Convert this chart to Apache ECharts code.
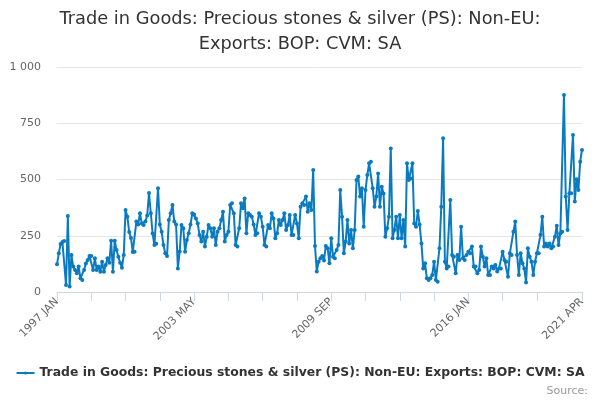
<!DOCTYPE html>
<html>
<head>
<meta charset="utf-8">
<script src="https://cdn.jsdelivr.net/npm/echarts@6/dist/echarts.min.js"></script>
<style>
html,body{margin:0;padding:0;background:#fff;}
#chart{width:600px;height:400px;}
</style>
</head>
<body>
<div id="chart"></div>
<script>
var seriesName = "Trade in Goods: Precious stones & silver (PS): Non-EU: Exports: BOP: CVM: SA";
var titleLines = ["Trade in Goods: Precious stones & silver (PS): Non-EU:", "Exports: BOP: CVM: SA"];
var startYear = 1997;
var monthNames = ["JAN","FEB","MAR","APR","MAY","JUN","JUL","AUG","SEP","OCT","NOV","DEC"];
var yTicks = [0, 250, 500, 750, 1000];

var values1997_2000 = [123,172,213,222,227,31,338,24,164,113,98,83,113,61,53,98,127,142,160,160,98,150,98,113,90,135,90,120,150,130,228,90,228,187,157,130,108,164,364,335,267,240,178,179];
var values2000_2004 = [313,300,350,305,298,313,340,440,350,260,209,215,461,300,268,209,172,160,320,350,387,313,300,105,180,298,283,179,231,261,300,350,345,327,305,253,224,268,202,246,298,283,246,283,209,268,283,320,357,224];
var values2004_2009 = [253,268,387,394,350,209,202,283,394,372,416,261,350,342,335,300,253,261,350,335,290,209,202,298,283,350,327,239,261,320,298,320,350,276,298,342,253,253,342,305,239,379,394,387,424,357,394,364,542];
var values2009_2013 = [205,91,135,150,160,140,205,194,128,239,157,150,187,209,453,335,172,224,320,216,276,194,276,498,513,424,461,290,453,520,572,579,461,379,424,527,379,468,438,246,283,335,638];
var values2013_2017 = [239,276,335,239,342,239,320,202,572,498,505,572,305,290,360,300,216,105,128,61,53,61,76,135,53,46,194,379,683,135,105,113,409,165,157,83,165,142,290,150,142,165,179,172,202,113,113,83,98,202,157,113,150,76,76,113,105,120];
var values2017_2021 = [91,105,105,179,142,135,68,172,165,268,313,165,76,172,128,105,42,194,157,135,76,135,172,172,254,335,202,216,202,216,194,202,246,295,209,261,268,876,424,276,439,439,698,402,501,453,579,631];

var values = [].concat(values1997_2000, values2000_2004, values2004_2009, values2009_2013, values2013_2017, values2017_2021);

var categories = [];
for (var k = 0; k < values.length; k++) {
  var yr = startYear + Math.floor(k / 12);
  categories.push(yr + " " + monthNames[k % 12]);
}
var lastIndex = categories.length - 1;

var chart = echarts.init(document.getElementById('chart'), null, {renderer: 'canvas'});
var FONT = "DejaVu Sans, sans-serif";
var titleStyle = {fontFamily: FONT, fontSize: 17.8, fontWeight: 'normal', color: '#333333'};
chart.setOption({
  animation: false,
  backgroundColor: '#ffffff',
  textStyle: {fontFamily: FONT},
  title: [
    {text: titleLines[0], left: 'center', top: 10, padding: 0, textStyle: titleStyle},
    {text: titleLines[1], left: 'center', top: 35, padding: 0, textStyle: titleStyle}
  ],
  grid: {left: 57, right: 18, top: 67, bottom: 108, containLabel: false},
  xAxis: {
    type: 'category',
    data: categories,
    boundaryGap: false,
    axisLine: {show: true, lineStyle: {color: '#ccd6eb', width: 1}},
    axisTick: {
      show: true, length: 9, lineStyle: {color: '#ccd6eb'},
      interval: function (idx) { return (idx % 19 === 0 && idx < 280) || idx === lastIndex; }
    },
    axisLabel: {
      color: '#666666', fontSize: 11, fontFamily: FONT, rotate: 45, margin: 8,
      interval: function (idx) { return idx % 76 === 0 || idx === lastIndex; },
      showMaxLabel: true
    },
    splitLine: {show: false}
  },
  yAxis: {
    type: 'value',
    min: yTicks[0],
    max: yTicks[yTicks.length - 1],
    interval: 250,
    axisLine: {show: false},
    axisTick: {show: false},
    axisLabel: {
      color: '#666666', fontSize: 11, fontFamily: FONT, margin: 16,
      formatter: function (v) { return String(v).replace(/\B(?=(\d{3})+(?!\d))/g, ' '); }
    },
    splitLine: {show: true, lineStyle: {color: '#e6e6e6', width: 1}}
  },
  legend: {
    show: true,
    bottom: 16,
    left: 'center',
    itemWidth: 18,
    itemHeight: 4,
    itemGap: 5,
    textStyle: {fontFamily: FONT, fontSize: 12.4, fontWeight: 'bold', color: '#333333'},
    data: [seriesName]
  },
  graphic: [{
    type: 'text',
    right: 12,
    bottom: 3,
    style: {text: 'Source:', fill: '#999999', fontSize: 11, fontFamily: FONT}
  }],
  series: [{
    name: seriesName,
    type: 'line',
    data: values,
    color: '#0b7bc1',
    lineStyle: {width: 2, color: '#0b7bc1'},
    symbol: 'circle',
    symbolSize: 4,
    showSymbol: true,
    showAllSymbol: true,
    itemStyle: {color: '#0b7bc1'}
  }]
});
</script>
</body>
</html>
